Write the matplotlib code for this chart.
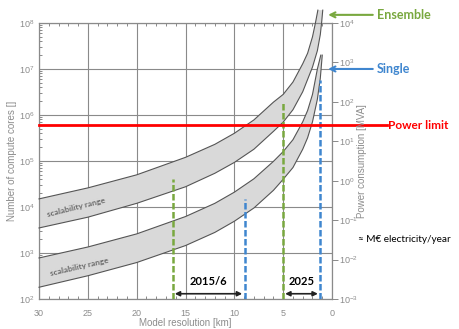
import matplotlib
matplotlib.use('Agg')
import matplotlib.pyplot as plt
from matplotlib.ticker import LogLocator, MultipleLocator, NullLocator

# band edges: model resolution [km] vs number of compute cores
ens_hi_km = [30, 25, 20, 15, 12, 10, 8, 6, 5, 4, 3, 2.5, 2, 1.7, 1.45]
ens_hi_cores = [1.5e4, 2.6e4, 5.0e4, 1.2e5, 2.3e5, 4.0e5, 7.8e5, 1.9e6, 2.8e6,
                5.2e6, 1.3e7, 2.2e7, 5.0e7, 1.0e8, 1.9e8]
ens_lo_km = [30, 25, 20, 15, 12, 10, 8, 6, 5, 4, 3, 2, 1.5, 1.2, 1.05, 0.95]
ens_lo_cores = [3.5e3, 6.0e3, 1.2e4, 2.75e4, 5.4e4, 9.3e4, 1.8e5, 4.4e5, 7.0e5,
                1.3e6, 3.2e6, 1.1e7, 2.5e7, 5.6e7, 1.1e8, 1.9e8]
sgl_hi_km = [30, 25, 20, 15, 12, 10, 8, 6, 5, 4, 3, 2.5, 2, 1.5, 1.15]
sgl_hi_cores = [780, 1.35e3, 2.6e3, 6.2e3, 1.2e4, 2.1e4, 4.1e4, 9.8e4, 1.6e5,
                2.9e5, 7.1e5, 1.25e6, 2.8e6, 1.0e7, 2.0e7]
sgl_lo_km = [30, 25, 20, 15, 12, 10, 8, 6, 5, 4, 3, 2.5, 2, 1.5, 1.2, 1.0]
sgl_lo_cores = [180, 320, 620, 1.45e3, 2.8e3, 4.9e3, 9.5e3, 2.3e4, 4.0e4,
                7.2e4, 1.8e5, 3.2e5, 7.1e5, 2.2e6, 6.3e6, 2.0e7]

# vertical dashed markers (resolution reached, core count at top)
mark_km = [16.25, 8.9, 5.0, 1.23]
mark_top = [4.0e4, 1.5e4, 1.9e6, 5.8e6]
mark_kind = ['ens', 'sgl', 'ens', 'sgl']

period_labels = ['2015/6', '2025']
period_from = [16.1, 4.8]
period_to = [9.2, 1.45]

power_limit = 6e5

GREEN = '#79a83f'
BLUE = '#3f86cf'
GREY = '#8c8c8c'
kind_color = {'ens': GREEN, 'sgl': BLUE}

plt.rcParams['font.family'] = ['Liberation Sans', 'DejaVu Sans']
plt.rcParams['mathtext.default'] = 'regular'

fig = plt.figure(figsize=(4.6, 3.29), dpi=100)
ax = fig.add_axes([0.0848, 0.0912, 0.637, 0.839])

for hk, hc, lk, lc in [(ens_hi_km, ens_hi_cores, ens_lo_km, ens_lo_cores),
                       (sgl_hi_km, sgl_hi_cores, sgl_lo_km, sgl_lo_cores)]:
    ax.fill(hk + lk[::-1], hc + lc[::-1], color='#d9d9d9', lw=0, zorder=2, clip_on=False)
    ax.plot(hk, hc, color='#555555', lw=0.8, zorder=3, clip_on=False)
    ax.plot(lk, lc, color='#555555', lw=0.8, zorder=3, clip_on=False)

ax.text(26.2, 1.0e4, 'scalability range', rotation=14, ha='center', va='center',
        fontsize=6, color='#6b6b6b', family='Lato', weight='bold', zorder=4)
ax.text(25.9, 5.0e2, 'scalability range', rotation=13, ha='center', va='center',
        fontsize=6, color='#6b6b6b', family='Lato', weight='bold', zorder=4)

for km, top, kind in zip(mark_km, mark_top, mark_kind):
    ax.plot([km, km], [1e2, top], color=kind_color[kind], lw=1.8,
            dashes=(2.6, 1.0), zorder=5)

for lab, a, b in zip(period_labels, period_from, period_to):
    ax.annotate('', xy=(b, 130), xytext=(a, 130),
                arrowprops=dict(arrowstyle='<|-|>', color='#222222', lw=1.2,
                                mutation_scale=7, shrinkA=0, shrinkB=0), zorder=6)
    ax.text((a + b) / 2, 240, lab, ha='center', va='center', fontsize=8,
            family='Lato', weight='bold', color='black', zorder=6)

# power limit line runs past the right axis
ax.plot([30, -5.6], [power_limit, power_limit], color='#ff0000', lw=2,
        zorder=7, clip_on=False)
ax.text(-5.7, power_limit, 'Power limit', ha='left', va='center', fontsize=8.5,
        family='Lato', weight='bold', color='#ff0000')

ax.annotate('Ensemble', xy=(0.4, 1.5e8), xytext=(-4.6, 1.5e8), ha='left', va='center',
            fontsize=9, family='Lato', weight='bold', color=GREEN, annotation_clip=False,
            arrowprops=dict(arrowstyle='->', color=GREEN, lw=1.5, shrinkA=1, shrinkB=0,
                            mutation_scale=9))
ax.annotate('Single', xy=(0.4, 1.0e7), xytext=(-4.6, 1.0e7), ha='left', va='center',
            fontsize=9, family='Lato', weight='bold', color=BLUE, annotation_clip=False,
            arrowprops=dict(arrowstyle='->', color=BLUE, lw=1.5, shrinkA=1, shrinkB=0,
                            mutation_scale=9))

ax.set_xlim(30, 0)
ax.set_yscale('log')
ax.set_ylim(1e2, 1e8)
ax.set_xticks([30, 25, 20, 15, 10, 5, 0])
ax.set_xticklabels([str(v) for v in [30, 25, 20, 15, 10, 5, 0]])
ax.xaxis.set_minor_locator(MultipleLocator(1))
ax.yaxis.set_major_locator(LogLocator(base=10, numticks=10))
ax.yaxis.set_minor_locator(LogLocator(base=10, subs=range(2, 10), numticks=10))
ax.grid(True, which='major', color='#8a8a8a', lw=0.8, zorder=1)
ax.set_axisbelow(True)
ax.tick_params(which='both', direction='in', top=True, right=False, colors='#8a8a8a',
               labelcolor=GREY, labelsize=6.5, width=0.7)
ax.tick_params(which='major', length=4)
ax.tick_params(which='minor', length=2.5)
ax.tick_params(axis='x', pad=7)
for sp in ax.spines.values():
    sp.set_color('#8a8a8a')
    sp.set_linewidth(0.9)
ax.set_xlabel('Model resolution [km]', fontsize=7, color=GREY, va='center')
ax.set_ylabel('Number of compute cores []', fontsize=7, color=GREY, va='center')
ax.xaxis.set_label_coords(0.5, -0.087)
ax.yaxis.set_label_coords(-0.092, 0.5)

ax2 = ax.twinx()
ax2.set_position(ax.get_position())
ax2.set_yscale('log')
ax2.set_ylim(1e-3, 1e4)
ax2.yaxis.set_major_locator(LogLocator(base=10, numticks=12))
ax2.yaxis.set_minor_locator(NullLocator())
ax2.tick_params(axis='y', direction='out', length=4, width=0.7, colors='#8a8a8a',
                labelcolor=GREY, labelsize=6.5, pad=1)
for sp in ax2.spines.values():
    sp.set_visible(False)
ax2.set_ylabel('Power consumption [MVA]', fontsize=7, color=GREY, va='center')
ax2.yaxis.set_label_coords(1.102, 0.5)

fig.text(358 / 460, 1 - 239 / 329, '≈ M€ electricity/year', ha='left', va='center',
         fontsize=7.2, family='Lato', color='black')

fig.savefig('out.png', dpi=100)
